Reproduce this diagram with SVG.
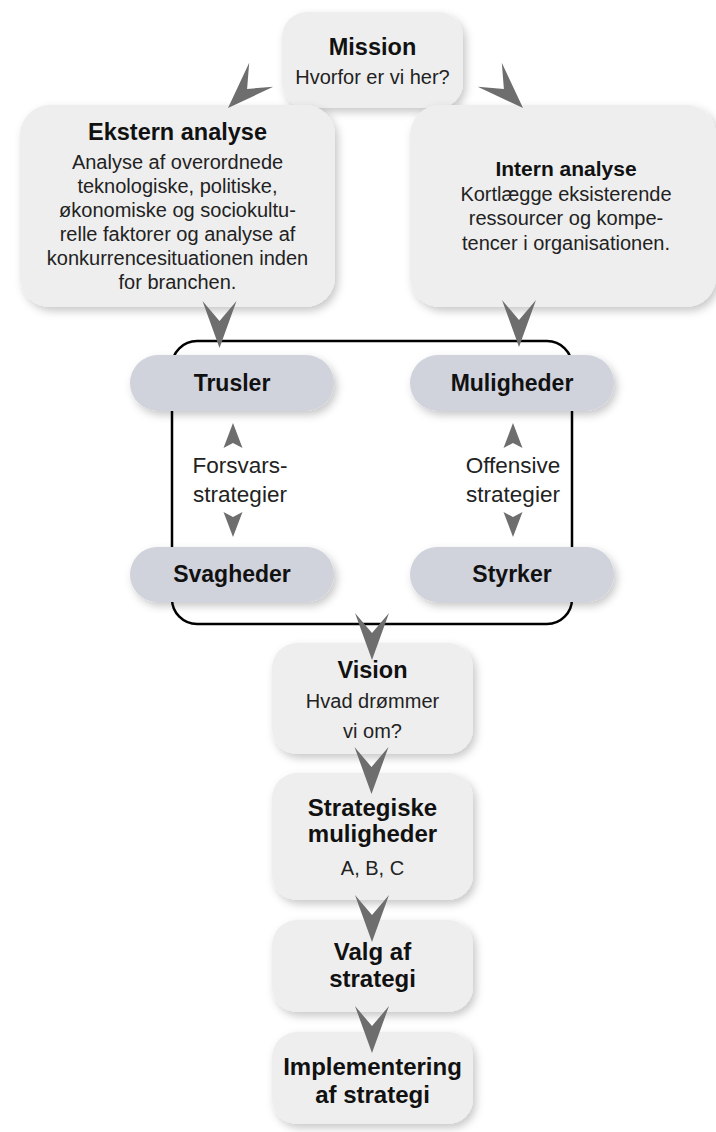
<svg xmlns="http://www.w3.org/2000/svg" width="716" height="1132" viewBox="0 0 716 1132">
  <defs>
    <filter id="shadow" x="-10%" y="-10%" width="125%" height="130%">
      <feDropShadow dx="3" dy="4" stdDeviation="4" flood-color="#000" flood-opacity="0.22"/>
    </filter>
    <path id="chev" d="M-17,-47 L0,-27 L17,-47 L0,0 Z"/>
    <path id="chev-small" d="M-9.5,-25 L0,-20 L9.5,-25 L0,0 Z"/>
  </defs>
  <style>
    .box { fill: #eeeeee; filter: url(#shadow); }
    .pill { fill: #d0d2dc; filter: url(#shadow); }
    .frame { fill: none; stroke: #000; stroke-width: 2.5; }
    .title { font-family: "Liberation Sans", Arial, sans-serif; font-weight: bold; font-size: 23.5px; fill: #111; text-anchor: middle; }
    .pilltxt { font-family: "Liberation Sans", Arial, sans-serif; font-weight: bold; font-size: 23px; fill: #111; text-anchor: middle; }
    .body { font-family: "Liberation Sans", Arial, sans-serif; font-size: 20px; fill: #222; text-anchor: middle; }
    .label { font-family: "Liberation Sans", Arial, sans-serif; font-size: 22.5px; fill: #222; text-anchor: middle; }
    .arrow { fill: #6e6e6e; }
  </style>

  <rect width="716" height="1132" fill="#ffffff"/>

  <!-- Mission -->
  <g id="mission">
    <rect class="box" x="282" y="12" width="181" height="96" rx="25"/>
    <text class="title" x="372.5" y="55" font-size="23px">Mission</text>
    <text class="body" x="372.5" y="84">Hvorfor er vi her?</text>
  </g>

  <!-- Ekstern analyse -->
  <g id="ekstern">
    <rect class="box" x="20" y="105" width="315" height="202" rx="30"/>
    <text class="title" x="177.5" y="140">Ekstern analyse</text>
    <text class="body" x="177.5" y="169">Analyse af overordnede</text>
    <text class="body" x="177.5" y="193">teknologiske, politiske,</text>
    <text class="body" x="177.5" y="217">økonomiske og sociokultu-</text>
    <text class="body" x="177.5" y="241">relle faktorer og analyse af</text>
    <text class="body" x="177.5" y="264.5">konkurrencesituationen inden</text>
    <text class="body" x="177.5" y="288.5">for branchen.</text>
  </g>

  <!-- Intern analyse -->
  <g id="intern">
    <rect class="box" x="410" y="105" width="306" height="202" rx="30"/>
    <text class="title" x="566" y="176" style="font-size:21px">Intern analyse</text>
    <text class="body" x="566" y="200.5">Kortlægge eksisterende</text>
    <text class="body" x="566" y="225">ressourcer og kompe-</text>
    <text class="body" x="566" y="250">tencer i organisationen.</text>
  </g>

  <!-- SWOT frame -->
  <g id="swot-frame">
    <rect class="frame" x="172" y="341" width="400" height="283" rx="25"/>
  </g>

  <g id="trusler">
    <rect class="pill" x="130" y="355" width="204" height="56" rx="28"/>
    <text class="pilltxt" x="232" y="391">Trusler</text>
  </g>
  <g id="muligheder">
    <rect class="pill" x="410" y="355" width="204" height="56" rx="28"/>
    <text class="pilltxt" x="512" y="391">Muligheder</text>
  </g>
  <g id="svagheder">
    <rect class="pill" x="130" y="547" width="204" height="55" rx="27.5"/>
    <text class="pilltxt" x="232" y="582">Svagheder</text>
  </g>
  <g id="styrker">
    <rect class="pill" x="410" y="547" width="204" height="55" rx="27.5"/>
    <text class="pilltxt" x="512" y="582">Styrker</text>
  </g>

  <g id="forsvar">
    <text class="label" x="240" y="473">Forsvars-</text>
    <text class="label" x="240" y="502">strategier</text>
  </g>
  <g id="offensiv">
    <text class="label" x="513" y="473">Offensive</text>
    <text class="label" x="513" y="502">strategier</text>
  </g>

  <!-- Vision -->
  <g id="vision">
    <rect class="box" x="272" y="643" width="201" height="111" rx="25"/>
    <text class="title" x="372.5" y="677.5">Vision</text>
    <text class="body" x="372.5" y="708">Hvad drømmer</text>
    <text class="body" x="372.5" y="737.5">vi om?</text>
  </g>

  <!-- Strategiske muligheder -->
  <g id="strategiske">
    <rect class="box" x="272" y="773" width="201" height="127" rx="25"/>
    <text class="title" x="372.5" y="816" style="font-size:24px">Strategiske</text>
    <text class="title" x="372.5" y="842" style="font-size:24px">muligheder</text>
    <text class="body" x="372.5" y="875">A, B, C</text>
  </g>

  <!-- Valg af strategi -->
  <g id="valg">
    <rect class="box" x="272" y="920" width="201" height="92" rx="25"/>
    <text class="title" x="372.5" y="960" style="font-size:24px">Valg af</text>
    <text class="title" x="372.5" y="987" style="font-size:24px">strategi</text>
  </g>

  <!-- Implementering af strategi -->
  <g id="implementering">
    <rect class="box" x="272" y="1032" width="201" height="92" rx="25"/>
    <text class="title" x="372.5" y="1075" style="font-size:24px">Implementering</text>
    <text class="title" x="372.5" y="1103" style="font-size:24px">af strategi</text>
  </g>

  <!-- Connectors -->
  <g id="connectors" class="arrow">
    <use href="#chev" transform="translate(228,108) rotate(45)"/>
    <use href="#chev" transform="translate(523,108) rotate(-45)"/>
    <use href="#chev" transform="translate(219.5,348)"/>
    <use href="#chev" transform="translate(519,347)"/>
    <use href="#chev-small" transform="translate(233,423) rotate(180)"/>
    <use href="#chev-small" transform="translate(233,537)"/>
    <use href="#chev-small" transform="translate(513,423) rotate(180)"/>
    <use href="#chev-small" transform="translate(513,537)"/>
    <use href="#chev" transform="translate(372,660)"/>
    <use href="#chev" transform="translate(371.5,794)"/>
    <use href="#chev" transform="translate(372,942)"/>
    <use href="#chev" transform="translate(372,1053)"/>
  </g>
</svg>
